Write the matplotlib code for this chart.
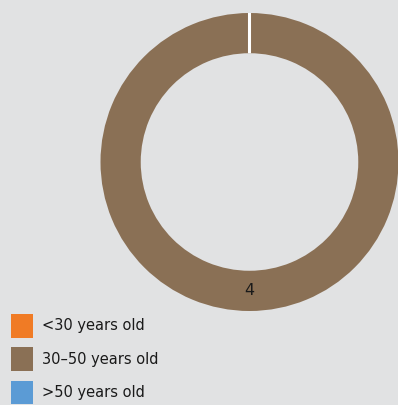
import matplotlib
matplotlib.use("Agg")
import matplotlib.pyplot as plt
import numpy as np
from matplotlib.patches import Patch

# data
labels = ["<30 years old", "30\u201350 years old", ">50 years old"]
values = [0, 4, 0]
colors = ["#f07b25", "#8a7055", "#5b9bd5"]

bg = "#e1e2e3"

fig = plt.figure(figsize=(3.98, 4.05), dpi=100, facecolor=bg)
ax = fig.add_axes([100.5 / 398, 94 / 405, 298 / 398, 298 / 405])
ax.set_facecolor(bg)

wedges, _ = ax.pie(values, colors=colors, startangle=90, counterclock=False,
                   radius=1.0, wedgeprops=dict(width=0.27, linewidth=0))
# zero-size wedges show up as the white divider at the top
for w, v in zip(wedges, values):
    if v == 0:
        w.set_edgecolor("white")
        w.set_linewidth(2.2)
    w.set_clip_on(False)

# value label in the middle of the ring
total = sum(values)
start = 90
for v in values:
    if v > 0:
        mid = np.deg2rad(start - 360 * v / total / 2)
        r = 1 - 0.27 / 2
        ax.text(r * np.cos(mid), r * np.sin(mid), str(v), ha="center", va="center",
                fontsize=11.5, color="#1a1a1a")
    start -= 360 * v / total

ax.set_xlim(-1, 1)
ax.set_ylim(-1, 1)
ax.set_aspect("equal")
ax.axis("off")

handles = [Patch(facecolor=c, edgecolor="none") for c in colors]
fig.legend(handles, labels, loc="lower left", bbox_to_anchor=(0.005, -0.02),
           frameon=False, fontsize=10.5, handlelength=1.55, handleheight=2.1,
           labelspacing=0.68, handletextpad=0.6, borderaxespad=0.2,
           labelcolor="#1a1a1a")

fig.savefig("out.png", dpi=100, facecolor=bg)
